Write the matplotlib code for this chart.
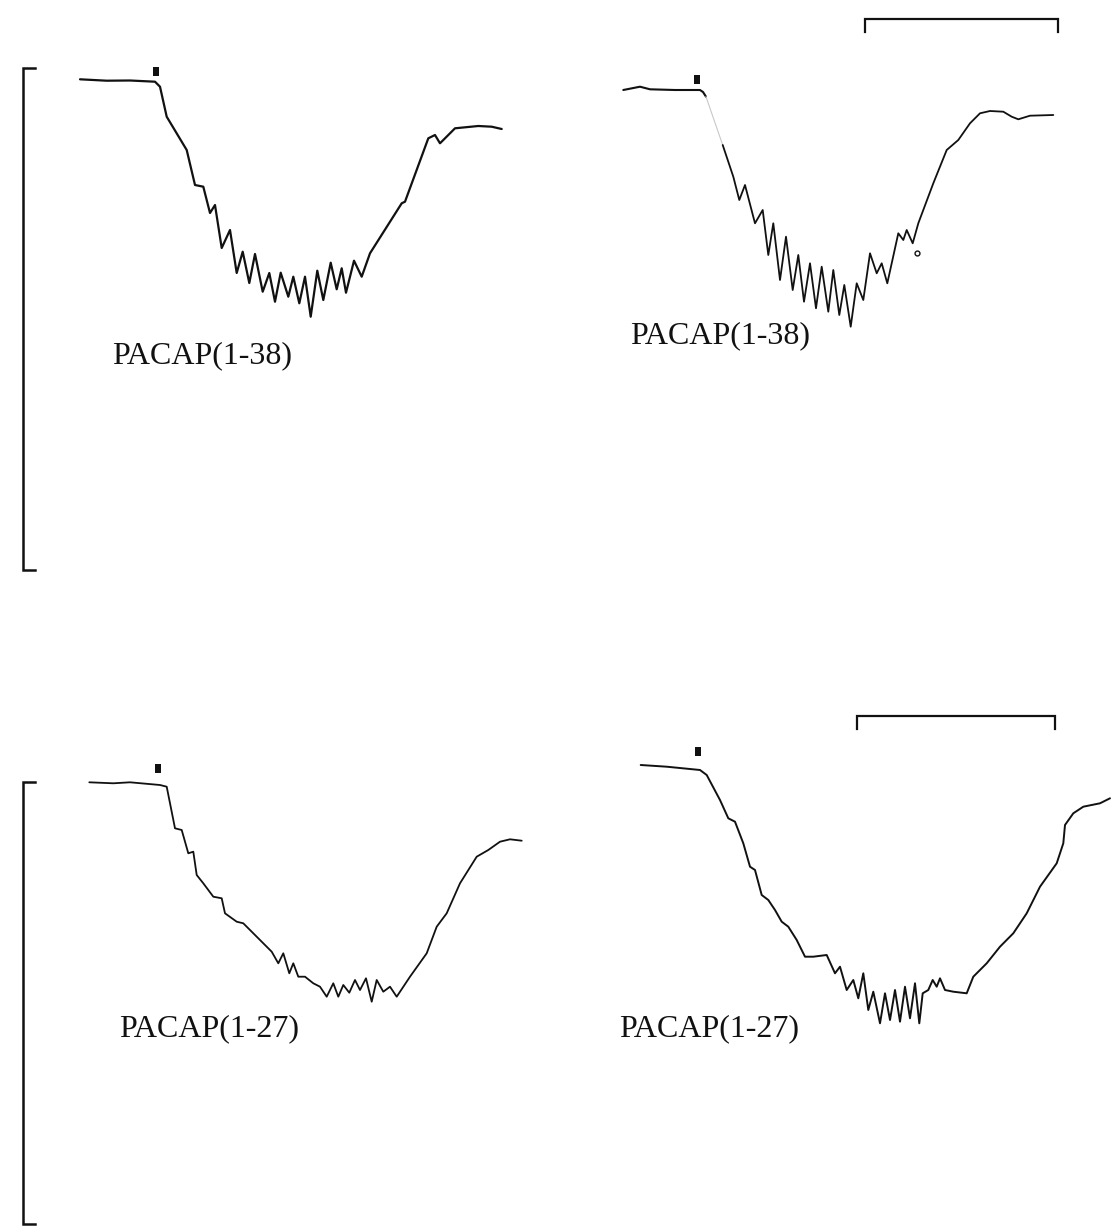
#!/usr/bin/env python3
"""Recreate the PACAP(1-38) / PACAP(1-27) trace figure."""

import matplotlib
matplotlib.use("Agg")
import matplotlib.pyplot as plt
from matplotlib.patches import Rectangle

INK = "#111111"

# --- traces (x, y in page pixels, y grows downward) ---
tl_x = [80, 106.7, 130, 155, 160, 166.7, 186.7, 195, 203.3, 210, 215, 221.7, 230,
        236.7, 242.7, 249.3, 255, 262.7, 269.3, 275, 280.7, 288.3, 293.3, 299.3,
        305, 310.7, 317.3, 323.3, 330.7, 336.7, 341.7, 346, 354, 361.7, 370,
        401.7, 405, 428.3, 435, 440, 455, 478.3, 491.7, 501.7]
tl_y = [79.3, 80.7, 80.5, 81.7, 86.7, 116.7, 150, 185, 186.7, 213, 205, 248, 230,
        273, 251.7, 283, 254, 291.7, 273, 301.7, 272.7, 296.7, 276.7, 303.3,
        276.7, 316.7, 270.7, 300, 262.7, 289.3, 268.3, 292.7, 260.7, 276.7, 253.3,
        203.3, 201.7, 138.3, 135, 143.3, 128.3, 126, 126.7, 129]

tr_x0 = [623.3, 640, 650, 675, 700, 703, 706]
tr_y0 = [90, 86.7, 89.3, 90, 90, 92, 96.7]
tr_x = [722.7, 733.3, 739.3, 745, 755, 762.7, 768.3, 773.3, 780, 786, 792.7, 798.3,
        804, 810, 816, 821.7, 828.3, 833.3, 839.3, 844.3, 850.7, 856.7, 863.3, 870,
        876.7, 881.7, 887.3, 898.3, 903.3, 906.7, 912.7, 918.3, 933.3, 946.7, 958.3,
        970, 980, 990, 1003.3, 1011.7, 1018.3, 1030, 1053.3]
tr_y = [145, 176.7, 200, 185, 223.3, 210, 255, 223.3, 280, 236.7, 290, 255,
        301.7, 263.3, 308.3, 266.7, 311.7, 270, 315, 285, 326.7, 283.3, 300, 253.3,
        273.3, 263.3, 283.3, 233.3, 240, 230, 243.3, 223.3, 183.3, 150, 140,
        123.3, 113.3, 111, 111.7, 116.7, 119.3, 115.7, 115]

bl_x = [89.3, 113.3, 130, 160, 166.7, 175, 181.7, 188.3, 193.3, 196.7, 203.3, 213.3,
        221.7, 225, 236.7, 243.3, 260, 271.7, 278.3, 283.3, 289.3, 293.3, 298.3,
        305, 313.3, 320, 326.7, 333.3, 338.3, 343.3, 349.3, 355, 360, 366, 371.7,
        376.7, 383.3, 390, 396.7, 410, 426.7, 436.7, 446.7, 460, 476.7, 488.3,
        500, 510, 521.7]
bl_y = [782.3, 783.3, 782.3, 785, 786.7, 828.3, 830, 853.3, 851.7, 875, 883.3, 896.7,
        898.3, 913.3, 921.7, 923.3, 940, 951.7, 963.3, 953.3, 973.3, 963.3, 976.7,
        976.7, 983.3, 986.7, 996.7, 983.3, 996.7, 985, 992.7, 980, 990, 978.3, 1001.7,
        980, 991.7, 986.7, 996.7, 976.7, 953.3, 926.7, 913.3, 883.3, 856.7, 850,
        841.7, 839.3, 840.7]

br_x = [640.7, 666.7, 700, 706.7, 720, 728.3, 735, 743.3, 750, 755, 761.7, 768.3,
        775, 781.7, 788.3, 796.7, 805, 813.3, 826.7, 835, 840, 846.7, 853.3, 858.3,
        863.3, 868.3, 873.3, 880, 885, 890, 895, 900, 905, 910, 915, 919.3, 922.7,
        928.3, 932.7, 936.7, 940, 945, 953.3, 966.7, 973.3, 986.7, 1000, 1013.3,
        1026.7, 1040, 1056.7, 1063.3, 1065, 1073.3, 1083.3, 1100, 1110]
br_y = [765, 766.7, 770, 775, 800, 818.3, 821.7, 843.3, 866.7, 870, 895, 900,
        910, 921.7, 926.7, 940, 956.7, 956.7, 955, 973.3, 966.7, 990, 980, 998.3,
        973.3, 1010, 991.7, 1023.3, 993.3, 1020, 990, 1021.7, 986.7, 1018.3, 983.3,
        1023.3, 993.3, 990, 980, 986.7, 978.3, 990, 991.7, 993.3, 976.7, 963.3,
        946.7, 933.3, 913.3, 886.7, 863.3, 843.3, 825, 813.3, 806.7, 803.3, 798.3]

# stimulus marks above each trace
stim_x = [155.7, 696.7, 157.7, 697.7]
stim_y = [71.7, 79.3, 768.3, 751]

labels = ["PACAP(1-38)", "PACAP(1-38)", "PACAP(1-27)", "PACAP(1-27)"]
label_x = [112, 630, 119, 619]
label_y = [356, 336, 1029, 1029]

# vertical calibration brackets (x, top, bottom) and horizontal bars (y, left, right)
vbar_x = [23, 23]
vbar_top = [68, 782]
vbar_bot = [570, 1224]
hbar_y = [19, 716]
hbar_l = [865, 857]
hbar_r = [1058, 1055]


fig = plt.figure(figsize=(11.18, 12.28), dpi=100)
ax = fig.add_axes([0, 0, 1, 1])
ax.set_xlim(0, 1118)
ax.set_ylim(1228, 0)
ax.axis("off")

kw = dict(color=INK, solid_joinstyle="round", solid_capstyle="round")
ax.plot(tl_x, tl_y, lw=1.6, **kw)
ax.plot(tr_x0, tr_y0, lw=1.5, **kw)
ax.plot([tr_x0[-1], tr_x[0]], [tr_y0[-1], tr_y[0]], color="#c8c8c8", lw=0.8)
ax.plot(tr_x, tr_y, lw=1.3, **kw)
ax.plot(bl_x, bl_y, lw=1.3, **kw)
ax.plot(br_x, br_y, lw=1.4, **kw)

# small open dot near the end of the top-right oscillations
ax.plot([916.7], [253.3], marker="o", ms=3.5, mfc="white", mec=INK, mew=1)

for x, y in zip(stim_x, stim_y):
    ax.add_patch(Rectangle((x - 3, y - 4.5), 6, 9, fc=INK, ec="none"))

for t, x, y in zip(labels, label_x, label_y):
    ax.text(x, y, t, fontsize=23, family="Liberation Serif", color=INK,
            ha="left", va="center")

for x, t, b in zip(vbar_x, vbar_top, vbar_bot):
    ax.plot([x + 12, x, x, x + 12], [t, t, b, b], color=INK, lw=1.8,
            solid_joinstyle="miter")

for y, l, r in zip(hbar_y, hbar_l, hbar_r):
    ax.plot([l, l, r, r], [y + 13, y, y, y + 13], color=INK, lw=1.6,
            solid_joinstyle="miter")

fig.savefig("out.png", dpi=100, facecolor="white")
